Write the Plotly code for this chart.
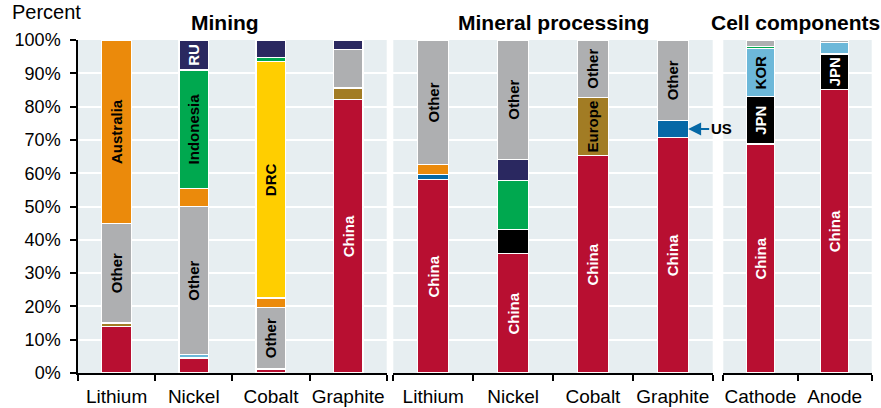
import plotly.graph_objects as go

# ---------------- DATA ----------------
mining_cats = ["Lithium", "Nickel", "Cobalt", "Graphite"]
processing_cats = ["Lithium", "Nickel", "Cobalt", "Graphite"]
cell_cats = ["Cathode", "Anode"]

# Mining shares (%), stacked bottom -> top
mining_china = [14.0, 4.5, 1.2, 82.2]
mining_europe = [1.0, None, None, 3.4]
mining_kor = [None, 1.0, None, None]
mining_other = [30.0, 44.5, 18.5, 11.6]
mining_australia = [55.0, 5.5, 2.8, None]
mining_drc = [None, None, 71.0, None]
mining_indonesia = [None, 35.5, 1.2, None]
mining_ru = [None, 9.0, 5.3, 2.8]

mining_china_lbl = ["", "", "", "China"]
mining_other_lbl = ["Other", "Other", "Other", ""]
mining_australia_lbl = ["Australia", "", "", ""]
mining_drc_lbl = ["", "", "DRC", ""]
mining_indonesia_lbl = ["", "Indonesia", "", ""]
mining_ru_lbl = ["", "RU", "", ""]

# Mineral processing shares (%)
proc_china = [58.0, 35.8, 65.2, 70.8]
proc_us = [1.5, None, None, 5.0]
proc_jpn = [None, 7.4, None, None]
proc_europe = [None, None, 17.6, None]
proc_australia = [3.0, None, None, None]
proc_indonesia = [None, 14.5, None, None]
proc_ru = [None, 6.5, None, None]
proc_other = [37.5, 35.8, 17.2, 24.2]

proc_china_lbl = ["China", "China", "China", "China"]
proc_europe_lbl = ["", "", "Europe", ""]
proc_other_lbl = ["Other", "Other", "Other", "Other"]

# Cell components shares (%)
cell_china = [68.8, 85.2]
cell_jpn = [14.2, 10.6]
cell_kor = [14.4, 3.4]
cell_indonesia = [0.7, None]
cell_other = [1.9, 0.8]

cell_china_lbl = ["China", "China"]
cell_jpn_lbl = ["JPN", "JPN"]
cell_kor_lbl = ["KOR", ""]

panel_titles = ["Mining", "Mineral processing", "Cell components"]
us_label = "US"

# ---------------- STYLE ----------------
C = {
    "China": "#B80F31",
    "Europe": "#A27C24",
    "KOR": "#6DB8D9",
    "Other": "#AEAFB1",
    "Australia": "#EB8A0B",
    "DRC": "#FFCE00",
    "Indonesia": "#00A84F",
    "RU": "#2A2860",
    "US": "#0668A6",
    "JPN": "#000000",
}
WHITE_TEXT = {"China", "RU", "JPN"}
BAR_W = 0.385
FONT = "Arial, Liberation Sans, sans-serif"
W, H = 881, 408

fig = go.Figure()


def add(cats, vals, name, xa, ya, labels=None):
    fig.add_trace(go.Bar(
        x=cats, y=vals, name=name, xaxis=xa, yaxis=ya,
        width=BAR_W,
        marker=dict(color=C[name], line=dict(color="white", width=1.2)),
        text=labels if labels is not None else None,
        textposition="inside", insidetextanchor="middle",
        textangle=-90, constraintext="none",
        textfont=dict(family=FONT, size=15,
                      color="white" if name in WHITE_TEXT else "black",
                      weight="bold"),
        showlegend=False, hoverinfo="x+y+name",
    ))


add(mining_cats, mining_china, "China", "x", "y", mining_china_lbl)
add(mining_cats, mining_europe, "Europe", "x", "y")
add(mining_cats, mining_kor, "KOR", "x", "y")
add(mining_cats, mining_other, "Other", "x", "y", mining_other_lbl)
add(mining_cats, mining_australia, "Australia", "x", "y", mining_australia_lbl)
add(mining_cats, mining_drc, "DRC", "x", "y", mining_drc_lbl)
add(mining_cats, mining_indonesia, "Indonesia", "x", "y", mining_indonesia_lbl)
add(mining_cats, mining_ru, "RU", "x", "y", mining_ru_lbl)

add(processing_cats, proc_china, "China", "x2", "y2", proc_china_lbl)
add(processing_cats, proc_us, "US", "x2", "y2")
add(processing_cats, proc_jpn, "JPN", "x2", "y2")
add(processing_cats, proc_europe, "Europe", "x2", "y2", proc_europe_lbl)
add(processing_cats, proc_australia, "Australia", "x2", "y2")
add(processing_cats, proc_indonesia, "Indonesia", "x2", "y2")
add(processing_cats, proc_ru, "RU", "x2", "y2")
add(processing_cats, proc_other, "Other", "x2", "y2", proc_other_lbl)

add(cell_cats, cell_china, "China", "x3", "y3", cell_china_lbl)
add(cell_cats, cell_jpn, "JPN", "x3", "y3", cell_jpn_lbl)
add(cell_cats, cell_kor, "KOR", "x3", "y3", cell_kor_lbl)
add(cell_cats, cell_indonesia, "Indonesia", "x3", "y3")
add(cell_cats, cell_other, "Other", "x3", "y3")

doms = [(78 / W, 386.7 / W), (393.3 / W, 712.7 / W), (723.3 / W, 871.7 / W)]
ydom = [35 / H, 368 / H]

xcommon = dict(type="category", showline=True, linecolor="black", linewidth=1.5,
               ticks="outside", tickson="boundaries", ticklen=6, tickwidth=1.5,
               tickcolor="black", showgrid=False, zeroline=False,
               tickangle=0, automargin=False,
               tickfont=dict(family=FONT, size=19, color="black"),
               ticklabelstandoff=5, fixedrange=True)
ycommon = dict(range=[0, 100], dtick=10, showgrid=True, gridcolor="white",
               gridwidth=1.5, zeroline=False, fixedrange=True, domain=ydom,
               automargin=False)

fig.update_layout(
    width=W, height=H,
    margin=dict(l=0, r=0, t=0, b=0),
    paper_bgcolor="white", plot_bgcolor="#E7EEF1",
    barmode="stack",
    font=dict(family=FONT, color="black"),
    xaxis=dict(domain=doms[0], anchor="y", categoryorder="array",
               categoryarray=mining_cats, range=[-0.5, len(mining_cats) - 0.5],
               **xcommon),
    xaxis2=dict(domain=doms[1], anchor="y2", categoryorder="array",
                categoryarray=processing_cats,
                range=[-0.5, len(processing_cats) - 0.5], **xcommon),
    xaxis3=dict(domain=doms[2], anchor="y3", categoryorder="array",
                categoryarray=cell_cats, range=[-0.5, len(cell_cats) - 0.5],
                **xcommon),
    yaxis=dict(anchor="x", showline=True, linecolor="black", linewidth=1.5,
               ticks="outside", ticklen=6, tickwidth=1.5, tickcolor="black",
               ticksuffix="%", tickfont=dict(family=FONT, size=18, color="black"),
               ticklabelstandoff=6, **ycommon),
    yaxis2=dict(anchor="x2", showticklabels=False, showline=False, ticks="", **ycommon),
    yaxis3=dict(anchor="x3", showticklabels=False, showline=False, ticks="", **ycommon),
)

# Panel titles
title_x = [225.5 / W, 553 / W, 795 / W]
for t, xx in zip(panel_titles, title_x):
    fig.add_annotation(text=t, x=xx, y=(H - 22) / H, xref="paper", yref="paper",
                       showarrow=False, xanchor="center", yanchor="middle",
                       font=dict(family=FONT, size=21, color="black", weight="bold"))

fig.add_annotation(text="Percent", x=10 / W, y=(H - 12) / H, xref="paper", yref="paper",
                   showarrow=False, xanchor="left", yanchor="middle",
                   font=dict(family=FONT, size=20, color="black"))

# US arrow on processing graphite
gi = processing_cats.index("Graphite")
fig.add_annotation(text=us_label, x=gi + BAR_W / 2, y=proc_china[gi] + proc_us[gi] / 2,
                   xref="x2", yref="y2", showarrow=True, ax=33, ay=0,
                   arrowhead=2, arrowsize=1.3, arrowwidth=2, arrowcolor=C["US"],
                   font=dict(family=FONT, size=15, color="black", weight="bold"))

fig.write_html("out.html", config={"displayModeBar": False},
               post_script="document.body.style.margin='0px';")
